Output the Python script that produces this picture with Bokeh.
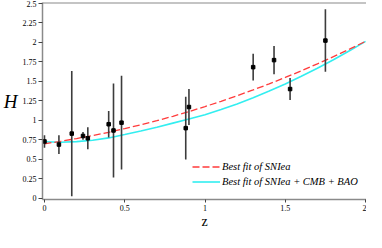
from bokeh.plotting import figure
from bokeh.models import Range1d, Legend, LegendItem, Span, FixedTicker, ColumnDataSource
from bokeh.embed import file_html
from bokeh.resources import INLINE

# Observational H(z) data (units of 100 km/s/Mpc)
z_obs = [0.0, 0.09, 0.17, 0.24, 0.27, 0.40, 0.43, 0.48, 0.88, 0.90, 1.30, 1.43, 1.53, 1.75]
H_obs = [0.73, 0.69, 0.83, 0.80, 0.77, 0.95, 0.87, 0.97, 0.90, 1.17, 1.68, 1.77, 1.40, 2.02]
H_err = [0.08, 0.12, 0.80, 0.05, 0.14, 0.17, 0.60, 0.60, 0.40, 0.23, 0.17, 0.18, 0.14, 0.40]

# Best-fit curves
z_fit = [0.0, 0.1, 0.2, 0.3, 0.4, 0.5, 0.6, 0.7, 0.8, 0.9, 1.0,
         1.1, 1.2, 1.3, 1.4, 1.5, 1.6, 1.7, 1.8, 1.9, 2.0]
H_snia = [0.700, 0.731, 0.767, 0.805, 0.847, 0.894, 0.942, 0.996, 1.052, 1.112, 1.176,
          1.243, 1.314, 1.389, 1.466, 1.548, 1.633, 1.722, 1.814, 1.910, 2.010]
H_all = [0.726, 0.720, 0.727, 0.745, 0.775, 0.818, 0.864, 0.912, 0.964, 1.016, 1.070,
         1.137, 1.210, 1.290, 1.374, 1.465, 1.563, 1.665, 1.774, 1.889, 2.010]

y_ticks = [0, 0.25, 0.5, 0.75, 1, 1.25, 1.5, 1.75, 2, 2.25, 2.5]
x_ticks = [0, 0.5, 1, 1.5, 2]

label_snia = "Best fit of SNIea"
label_all = "Best fit of SNIea + CMB + BAO"

p = figure(width=366, height=232, output_backend="svg", toolbar_location=None,
           x_range=Range1d(-0.0123, 2.006), y_range=Range1d(-0.0128, 2.507),
           min_border_left=37, min_border_right=0, min_border_top=2, min_border_bottom=33)
p.grid.visible = False
p.outline_line_color = None
p.background_fill_color = "white"
p.border_fill_color = "white"

serif = "Liberation Serif"

for ax in (p.xaxis[0], p.yaxis[0]):
    ax.axis_line_color = "#8a8a8a"
    ax.axis_line_width = 1.5
    ax.major_tick_line_color = "#444444"
    ax.minor_tick_line_color = None
    ax.major_tick_in = 0
    ax.major_label_text_font = serif
    ax.major_label_text_font_size = "8px"
    ax.major_label_text_color = "black"
    ax.axis_label_text_font = serif
    ax.axis_label_text_color = "black"

p.xaxis.ticker = FixedTicker(ticks=x_ticks)
p.yaxis.ticker = FixedTicker(ticks=y_ticks)
p.xaxis.major_label_overrides = {t: ("%g" % t) for t in x_ticks}
p.yaxis.major_label_overrides = {t: ("%g" % t) for t in y_ticks}
p.xaxis.major_tick_out = 3
p.yaxis.major_tick_out = 4
p.xaxis.major_label_standoff = 2
p.yaxis.major_label_standoff = 2

p.xaxis.axis_label = "z"
p.xaxis.axis_label_text_font_size = "14px"
p.xaxis.axis_label_text_font_style = "normal"
p.xaxis.axis_label_standoff = 0

p.yaxis.axis_label = "H"
p.yaxis.axis_label_text_font_size = "19px"
p.yaxis.axis_label_text_font_style = "italic"
p.yaxis.axis_label_orientation = "horizontal"
p.yaxis.axis_label_standoff = 2

top = Span(location=2.507, dimension="width", line_color="#8a8a8a", line_width=2)
p.add_layout(top)

fit_src = ColumnDataSource(dict(z=z_fit, a=H_snia, b=H_all))
r_all = p.line("z", "b", source=fit_src, line_color="#33eef0", line_width=1.6)
r_snia = p.line("z", "a", source=fit_src, line_color="#ff3b3b", line_width=1.3, line_dash="7 3")

lo = [h - e for h, e in zip(H_obs, H_err)]
hi = [h + e for h, e in zip(H_obs, H_err)]
obs_src = ColumnDataSource(dict(z=z_obs, h=H_obs, lo=lo, hi=hi))
p.segment(x0="z", y0="lo", x1="z", y1="hi", source=obs_src, line_color="#3c3c3c", line_width=1.6)
p.scatter("z", "h", source=obs_src, marker="square", size=3.5, color="black")

legend = Legend(items=[LegendItem(label=label_snia, renderers=[r_snia]),
                       LegendItem(label=label_all, renderers=[r_all])],
                location=(150, 11), orientation="vertical")
legend.border_line_color = None
legend.background_fill_alpha = 0
legend.padding = 0
legend.margin = 0
legend.spacing = 2
legend.glyph_width = 28
legend.glyph_height = 13
legend.label_height = 13
legend.label_standoff = 2
legend.label_text_font = serif
legend.label_text_font_style = "italic"
legend.label_text_font_size = "10.5px"
legend.label_text_color = "black"
p.add_layout(legend, "center")

open("out.html", "w").write(file_html(p, INLINE))
